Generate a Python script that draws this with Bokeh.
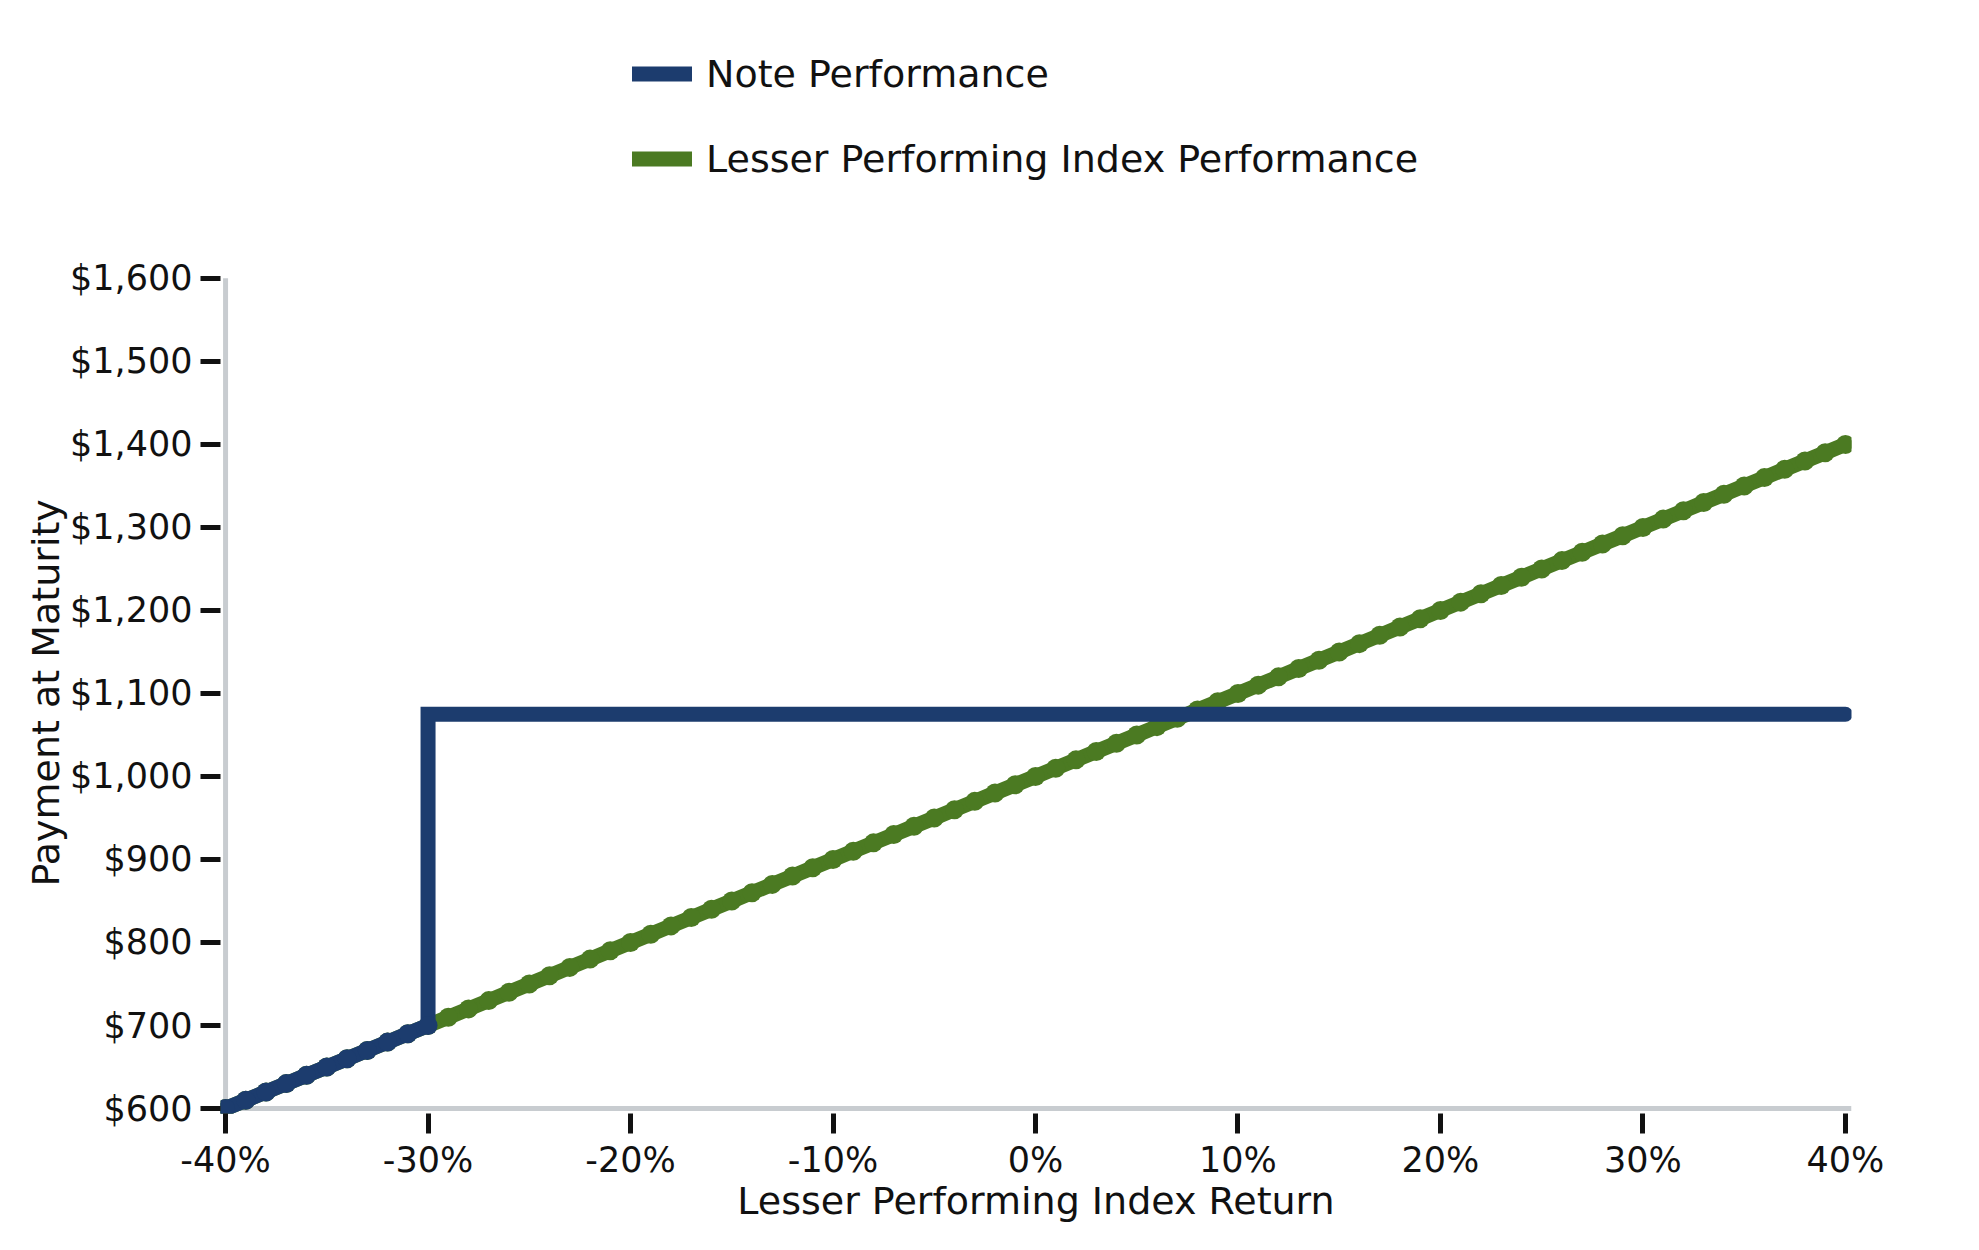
from bokeh.plotting import figure
from bokeh.models import (Span, Legend, LegendItem, FixedTicker, NumeralTickFormatter,
                          PrintfTickFormatter, Range1d, Title)
from bokeh.embed import file_html
from bokeh.resources import INLINE

# ---- data ----
index_return = [-40, -39, -38, -37, -36, -35, -34, -33, -32, -31, -30, -29, -28, -27, -26, -25,
                -24, -23, -22, -21, -20, -19, -18, -17, -16, -15, -14, -13, -12, -11, -10, -9,
                -8, -7, -6, -5, -4, -3, -2, -1, 0, 1, 2, 3, 4, 5, 6, 7, 8, 9, 10, 11, 12, 13, 14,
                15, 16, 17, 18, 19, 20, 21, 22, 23, 24, 25, 26, 27, 28, 29, 30, 31, 32, 33, 34,
                35, 36, 37, 38, 39, 40]
index_payment = [600, 610, 620, 630, 640, 650, 660, 670, 680, 690, 700, 710, 720, 730, 740, 750,
                 760, 770, 780, 790, 800, 810, 820, 830, 840, 850, 860, 870, 880, 890, 900, 910,
                 920, 930, 940, 950, 960, 970, 980, 990, 1000, 1010, 1020, 1030, 1040, 1050, 1060,
                 1070, 1080, 1090, 1100, 1110, 1120, 1130, 1140, 1150, 1160, 1170, 1180, 1190,
                 1200, 1210, 1220, 1230, 1240, 1250, 1260, 1270, 1280, 1290, 1300, 1310, 1320,
                 1330, 1340, 1350, 1360, 1370, 1380, 1390, 1400]
note_return = [-40, -39, -38, -37, -36, -35, -34, -33, -32, -31, -30, -30, 40]
note_payment = [600, 610, 620, 630, 640, 650, 660, 670, 680, 690, 700, 1075, 1075]
note_marker_return = [-40, -39, -38, -37, -36, -35, -34, -33, -32, -31, -30]
note_marker_payment = [600, 610, 620, 630, 640, 650, 660, 670, 680, 690, 700]

x_ticks = [-40, -30, -20, -10, 0, 10, 20, 30, 40]
y_ticks = [600, 700, 800, 900, 1000, 1100, 1200, 1300, 1400, 1500, 1600]

NAVY = "#1c3c6e"
GREEN = "#4b7a22"
AXIS_GREY = "#c8ccd0"
FONT = "DejaVu Sans"

p = figure(frame_width=1631, frame_height=1085,
           min_border_left=220, min_border_right=101, min_border_top=28, min_border_bottom=117,
           x_range=Range1d(-40.25, 40.3), y_range=Range1d(594, 1901),
           output_backend="svg", toolbar_location=None)
p.outline_line_color = None
p.xgrid.grid_line_color = None
p.ygrid.grid_line_color = None
p.background_fill_color = "white"
p.border_fill_color = "white"

# axis lines drawn at the data edges
p.add_layout(Span(location=y_ticks[0], dimension="width", line_color=AXIS_GREY,
                  line_width=5, level="underlay"))
p.segment(x0=[x_ticks[0]], y0=[y_ticks[0]], x1=[x_ticks[0]], y1=[y_ticks[-1]],
          line_color=AXIS_GREY, line_width=5, level="underlay")

# series
g_line = p.line(index_return, index_payment, line_color=GREEN, line_width=15,
                line_cap="round", line_join="round")
p.scatter(index_return, index_payment, size=19, fill_color=GREEN, line_color=None)

n_line = p.line(note_return, note_payment, line_color=NAVY, line_width=15,
                line_cap="round", line_join="miter")
p.scatter(note_marker_return, note_marker_payment, size=19, fill_color=NAVY, line_color=None)

# axes
for ax in (p.xaxis[0], p.yaxis[0]):
    ax.axis_line_color = None
    ax.major_tick_in = 0
    ax.major_tick_out = 20
    ax.major_tick_line_width = 5
    ax.major_tick_line_color = "#111111"
    ax.minor_tick_line_color = None
    ax.major_label_text_font = FONT
    ax.major_label_text_font_size = "35px"
    ax.major_label_text_color = "#111111"
    ax.major_label_standoff = 8
    ax.axis_label_text_font = FONT
    ax.axis_label_text_font_size = "38px"
    ax.axis_label_text_font_style = "normal"
    ax.axis_label_text_color = "#111111"

p.xaxis[0].ticker = FixedTicker(ticks=x_ticks)
p.yaxis[0].ticker = FixedTicker(ticks=y_ticks)
p.xaxis[0].formatter = PrintfTickFormatter(format="%d%%")
p.yaxis[0].formatter = NumeralTickFormatter(format="$0,0")
p.xaxis[0].axis_label = "Lesser Performing Index Return"
p.xaxis[0].major_label_standoff = 6
p.xaxis[0].axis_label_standoff = -4

# y-axis title, centred on the $600-$1,600 span
y_title = Title(text="Payment at Maturity", align="left", offset=227, standoff=0,
                text_font=FONT, text_font_size="38px", text_font_style="normal",
                text_color="#111111")
p.add_layout(y_title, "left")

legend = Legend(items=[LegendItem(label="Note Performance", renderers=[n_line]),
                       LegendItem(label="Lesser Performing Index Performance", renderers=[g_line])],
                location=(412, 932), orientation="vertical",
                label_text_font=FONT, label_text_font_size="38px", label_text_color="#111111",
                glyph_width=60, glyph_height=45, label_height=45, label_standoff=14,
                spacing=40, padding=0, margin=0,
                border_line_color=None, background_fill_alpha=0)
p.add_layout(legend, "center")

open("out.html", "w").write(file_html(p, INLINE))
